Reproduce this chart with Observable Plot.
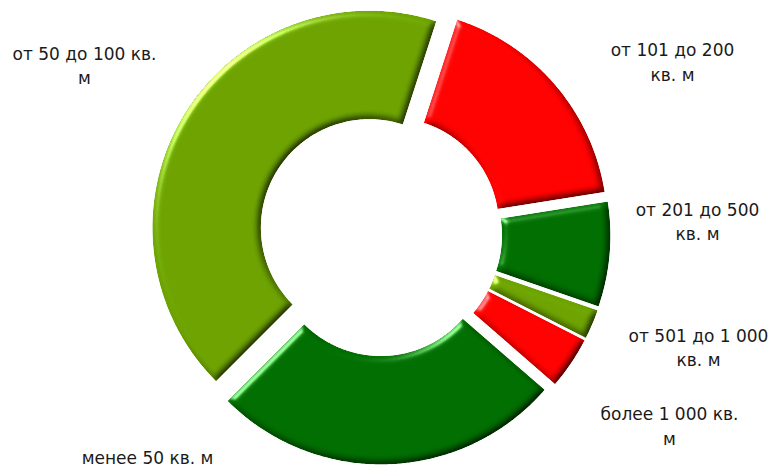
<!DOCTYPE html>
<html>
<head>
<meta charset="utf-8">
<script src="https://cdn.jsdelivr.net/npm/d3@7"></script>
<script src="https://cdn.jsdelivr.net/npm/@observablehq/plot@0.6"></script>
<style>
  html, body { margin: 0; padding: 0; background: #fff; }
</style>
</head>
<body>
<div id="chart"></div>
<script>
// Распределение объектов по площади (доли, %)
const categories = [
  "менее 50 кв. м",
  "от 50 до 100 кв. м",
  "от 101 до 200 кв. м",
  "от 201 до 500 кв. м",
  "от 501 до 1 000 кв. м",
  "более 1 000 кв. м"
];
const shares = [26.1, 42.5, 17.5, 7.8, 2.2, 3.9];
const sliceColors = ["#006d00", "#6ca200", "#ff0000", "#006d00", "#6ca200", "#ff0000"];
// Подписи в том виде, как они переносятся на две строки
const labelLines = [
  "менее 50 кв. м",
  "от 50 до 100 кв.\nм",
  "от 101 до 200\nкв. м",
  "от 201 до 500\nкв. м",
  "от 501 до 1 000\nкв. м",
  "более 1 000 кв.\nм"
];

// Геометрия кольца (в единицах сцены, совпадающих с пикселями)
const W = 775, H = 469;
const cx = 380, cy = 234;
const outerR = 217, innerR = 108.5, explode = 13;
const startDeg = 131;
// Опорные точки подписей
const labelPos = [
  [147, 455], [84, 63.5], [672, 60], [697, 219.5], [698, 345.5], [669, 424]
];

const table = categories.map((c, i) => ({category: c, share: shares[i], color: sliceColors[i]}));
const start = startDeg * Math.PI / 180;
const arcs = d3.pie().sort(null).value(d => d.share).startAngle(start).endAngle(start + 2 * Math.PI)(table);

// Контур каждого сектора: внешняя дуга, затем внутренняя в обратном порядке
const outline = [];
for (const a of arcs) {
  const mid = (a.startAngle + a.endAngle) / 2;
  const ox = explode * Math.sin(mid), oy = -explode * Math.cos(mid);
  const n = Math.max(4, Math.ceil((a.endAngle - a.startAngle) / (Math.PI / 360)));
  const pt = (r, t) => ({
    category: a.data.category,
    color: a.data.color,
    x: cx + ox + r * Math.sin(t),
    y: cy + oy - r * Math.cos(t)
  });
  for (let k = 0; k <= n; k++) outline.push(pt(outerR, a.startAngle + (a.endAngle - a.startAngle) * k / n));
  for (let k = n; k >= 0; k--) outline.push(pt(innerR, a.startAngle + (a.endAngle - a.startAngle) * k / n));
}

const labels = labelLines.map((t, i) => ({text: t, x: labelPos[i][0], y: labelPos[i][1]}));

const svg = Plot.plot({
  width: W,
  height: H,
  margin: 0,
  x: {domain: [0, W], range: [0, W], axis: null},
  y: {domain: [0, H], range: [0, H], axis: null},
  color: {type: "identity"},
  style: {background: "#fff", fontFamily: "'DejaVu Sans', sans-serif", fontSize: "17px", color: "#1a1a1a"},
  marks: [
    Plot.line(outline, {x: "x", y: "y", z: "category", fill: "color", stroke: null, curve: "linear-closed"}),
    Plot.text(labels, {x: "x", y: "y", text: "text", fill: "#1a1a1a", fontSize: 17, lineHeight: 1.47, textAnchor: "middle"})
  ]
});

// Объёмная фаска секторов
const defs = d3.select(svg).insert("defs", ":first-child");
defs.html(`
  <filter id="bevel" x="-5%" y="-5%" width="110%" height="110%" color-interpolation-filters="sRGB">
    <feGaussianBlur in="SourceAlpha" stdDeviation="3.8" result="bump"/>
    <feDiffuseLighting in="bump" surfaceScale="3" diffuseConstant="1.3" lighting-color="#fff" result="diff">
      <feDistantLight azimuth="225" elevation="50"/>
    </feDiffuseLighting>
    <feComposite in="SourceGraphic" in2="diff" operator="arithmetic" k1="1" k2="0" k3="0" k4="0" result="shaded"/>
    <feSpecularLighting in="bump" surfaceScale="3" specularConstant="0.8" specularExponent="40" lighting-color="#fff" result="spec">
      <feDistantLight azimuth="225" elevation="38"/>
    </feSpecularLighting>
    <feComposite in="spec" in2="SourceAlpha" operator="in" result="specIn"/>
    <feComposite in="shaded" in2="specIn" operator="arithmetic" k1="0" k2="1" k3="0.75" k4="0" result="lit"/>
    <feComposite in="lit" in2="SourceAlpha" operator="in"/>
  </filter>`);
d3.select(svg).selectAll('g[aria-label="line"] path').attr("filter", "url(#bevel)");

document.getElementById("chart").appendChild(svg);
</script>
</body>
</html>
